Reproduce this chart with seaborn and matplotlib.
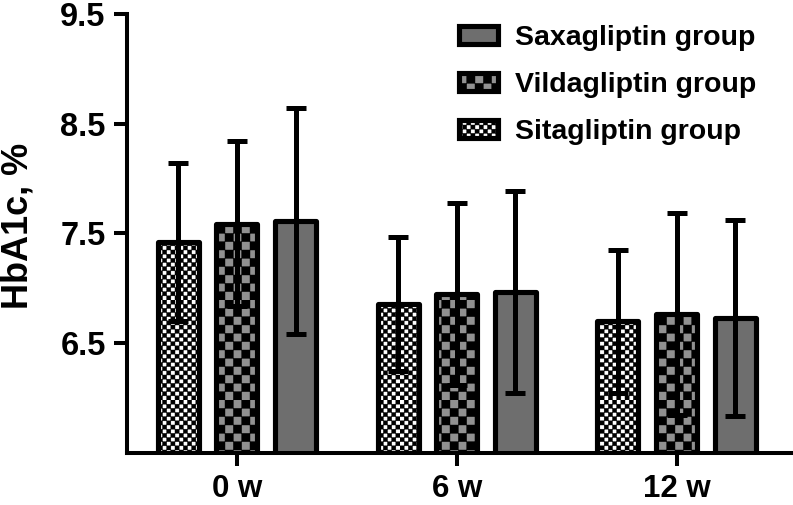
import warnings
import numpy as np
import pandas as pd
import matplotlib
matplotlib.use("Agg")
import matplotlib.pyplot as plt
import matplotlib.patches as mpatches
import matplotlib.hatch as mhatch
from matplotlib.path import Path
import seaborn as sns

warnings.filterwarnings("ignore")

# data
weeks = ["0 w", "6 w", "12 w"]
groups = ["Sitagliptin group", "Vildagliptin group", "Saxagliptin group"]
sita_mean = [7.42, 6.86, 6.70]
vild_mean = [7.59, 6.95, 6.77]
saxa_mean = [7.61, 6.97, 6.73]
sita_sd = [0.72, 0.61, 0.65]
vild_sd = [0.75, 0.83, 0.92]
saxa_sd = [1.03, 0.92, 0.89]


# checkerboard hatch ('c' repeated sets the cell count)
class CheckerHatch(mhatch.HatchPatternBase):
    def __init__(self, hatch, density):
        self.n = 2 * hatch.count("c")
        self.num_vertices = (self.n * self.n // 2) * 5

    def set_vertices_and_codes(self, vertices, codes):
        n = self.n
        cells = [(i, j) for i in range(n) for j in range(n) if (i + j) % 2 == 0]
        sq = np.array([[0, 0], [1, 0], [1, 1], [0, 1], [0, 0]], float)
        vertices[:] = np.concatenate([(sq + [i, j]) / n for i, j in cells])
        codes[:] = np.tile([Path.MOVETO, Path.LINETO, Path.LINETO,
                            Path.LINETO, Path.CLOSEPOLY], len(cells))


mhatch._hatch_types.append(CheckerHatch)

sns.set_style("ticks")
plt.rcParams["font.family"] = ["Liberation Sans", "DejaVu Sans"]
plt.rcParams["font.weight"] = "bold"
plt.rcParams["hatch.linewidth"] = 0.3
for k in ["text.color", "axes.labelcolor", "xtick.color", "ytick.color",
          "axes.edgecolor"]:
    plt.rcParams[k] = "black"

df = pd.DataFrame({
    "week": weeks * 3,
    "group": [g for g in groups for _ in weeks],
    "hba1c": sita_mean + vild_mean + saxa_mean,
})
sds = {groups[0]: sita_sd, groups[1]: vild_sd, groups[2]: saxa_sd}
means = {groups[0]: sita_mean, groups[1]: vild_mean, groups[2]: saxa_mean}

face = {groups[0]: "#ffffff", groups[1]: "#919191", groups[2]: "#6e6e6e"}
hatches = {groups[0]: "c" * 12, groups[1]: "c" * 6, groups[2]: None}
lw = 3.7

fig = plt.figure(figsize=(7.93, 5.05), dpi=100)
ax = fig.add_axes([0.1602, 0.103, 0.8398, 0.8693])

sns.barplot(data=df, x="week", y="hba1c", hue="group", order=weeks,
            hue_order=groups, palette=face, saturation=1, errorbar=None,
            width=0.8, gap=0.3, linewidth=lw, edgecolor="black",
            legend=False, ax=ax)

for cont, g in zip(ax.containers, groups):
    xs = []
    for p in cont:
        p.set_hatch(hatches[g])
        p.set_joinstyle("round")
        xs.append(p.get_x() + p.get_width() / 2)
    ax.errorbar(xs, means[g], yerr=sds[g], fmt="none", ecolor="black",
                elinewidth=3.6, capsize=7.2, capthick=3.6, zorder=3)

ax.set_ylim(5.5, 9.5)
ax.set_xlim(-0.5, 2.53)
ax.set_yticks([6.5, 7.5, 8.5, 9.5])
ax.set_yticklabels(["6.5", "7.5", "8.5", "9.5"])
ax.set_xlabel("")
ax.set_ylabel("HbA1c, %", fontsize=26, fontweight="bold")
ax.yaxis.set_label_coords(-0.137, 0.517)

sns.despine(ax=ax, top=True, right=True)
for s in ["left", "bottom"]:
    ax.spines[s].set_linewidth(2.9)
ax.tick_params(axis="both", width=2.9, length=9.4, labelsize=23.5, color="black")
ax.tick_params(axis="y", pad=6)
ax.tick_params(axis="x", pad=6, labelsize=22.5)
for t in ax.get_xticklabels() + ax.get_yticklabels():
    t.set_fontweight("bold")

handles = []
for g in groups[::-1]:
    handles.append(mpatches.Patch(facecolor=face[g], edgecolor="black",
                                  hatch=hatches[g], linewidth=lw,
                                  joinstyle="round", label=g))
ax.legend(handles=handles, loc="upper left", bbox_to_anchor=(0.579, 0.950),
          bbox_transform=fig.transFigure, frameon=False, fontsize=20.5,
          handlelength=1.36, handleheight=0.6, handletextpad=0.6,
          labelspacing=0.74, borderpad=0, borderaxespad=0)

fig.savefig("out.png", dpi=100)
